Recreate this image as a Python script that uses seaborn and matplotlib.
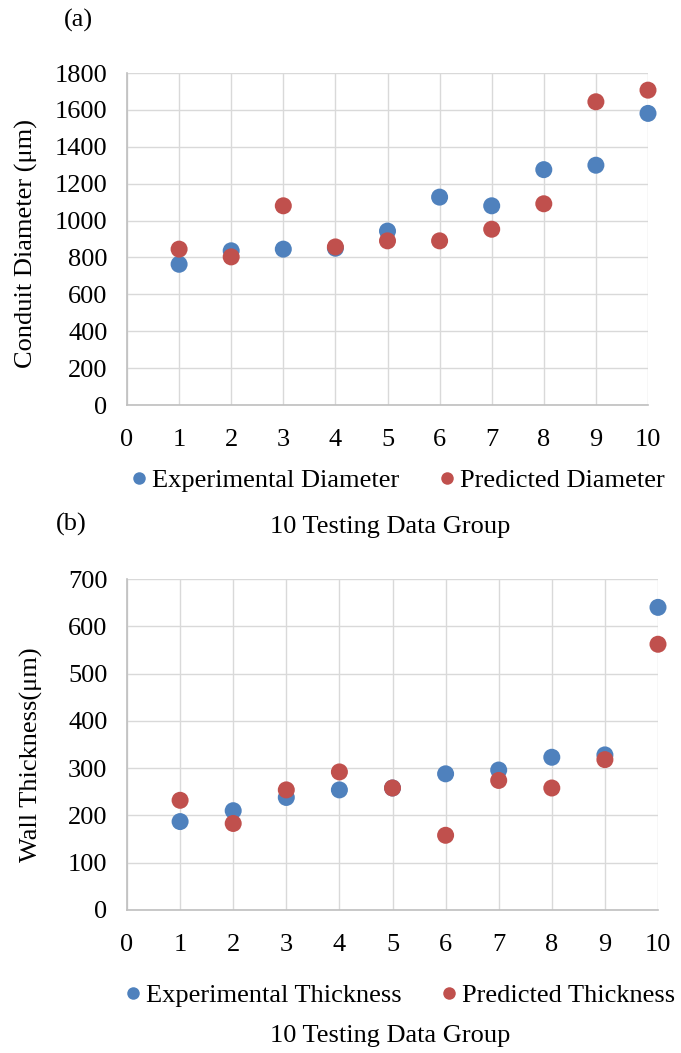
import matplotlib
matplotlib.use("Agg")
import matplotlib.pyplot as plt
import seaborn as sns
import pandas as pd
from matplotlib.lines import Line2D

# Testing data groups
groups = list(range(1, 11))

# Panel (a): conduit diameter (µm)
exp_diameter = [763, 836, 845, 850, 943, 1127, 1080, 1276, 1300, 1581]
pred_diameter = [845, 803, 1080, 857, 890, 890, 953, 1091, 1644, 1707]

# Panel (b): wall thickness (µm)
exp_thickness = [187, 210, 238, 254, 258, 288, 296, 323, 328, 640]
pred_thickness = [232, 183, 254, 292, 258, 158, 274, 258, 318, 562]

x_ticks = list(range(0, 11))
diam_ticks = list(range(0, 1801, 200))
thick_ticks = list(range(0, 701, 100))

BLUE = "#4F81BD"
RED = "#C0504D"

sns.set_theme(style="white")
plt.rcParams["font.family"] = ["Liberation Serif", "DejaVu Serif"]
plt.rcParams["text.color"] = "black"
plt.rcParams["axes.labelcolor"] = "black"

FS = 19
W, H = 681, 1053
fig = plt.figure(figsize=(W / 100, H / 100), dpi=100)


def make_axes(left, top, right, bottom):
    return fig.add_axes([left / W, 1 - bottom / H, (right - left) / W, (bottom - top) / H])


def panel(ax, exp, pred, exp_name, pred_name, yticks):
    df = pd.DataFrame({
        "group": groups * 2,
        "value": exp + pred,
        "series": [exp_name] * len(groups) + [pred_name] * len(groups),
    })
    sns.scatterplot(data=df, x="group", y="value", hue="series",
                    palette={exp_name: BLUE, pred_name: RED},
                    s=150, edgecolor="none", legend=False, ax=ax, zorder=3,
                    clip_on=False)
    ax.set_xlim(0, 10)
    ax.set_ylim(yticks[0], yticks[-1])
    ax.set_xticks(x_ticks)
    ax.set_yticks(yticks)
    ax.grid(True, color="#d9d9d9", linewidth=1.0)
    ax.set_axisbelow(True)
    for side in ("top", "right"):
        ax.spines[side].set_visible(False)
    for side in ("left", "bottom"):
        ax.spines[side].set_color("#bfbfbf")
        ax.spines[side].set_linewidth(1.2)
    ax.tick_params(axis="both", length=0, labelsize=FS, colors="black")
    ax.tick_params(axis="x", pad=17)
    ax.tick_params(axis="y", pad=14)
    ax.set_xlabel("")


ax1 = make_axes(127, 73, 648, 405)
panel(ax1, exp_diameter, pred_diameter, "Experimental Diameter", "Predicted Diameter", diam_ticks)
ax1.set_ylabel("Conduit Diameter (\u03bcm)", fontsize=FS)
ax1.yaxis.set_label_coords(-0.171, 0.485)

ax2 = make_axes(127, 579, 658, 910)
panel(ax2, exp_thickness, pred_thickness, "Experimental Thickness", "Predicted Thickness", thick_ticks)
ax2.set_ylabel("Wall Thickness(\u03bcm)", fontsize=FS)
ax2.yaxis.set_label_coords(-0.158, 0.468)


def legend_at(y, names, x0):
    handles = [Line2D([], [], linestyle="none", marker="o", markersize=9,
                      markerfacecolor=c, markeredgecolor="none") for c in (BLUE, RED)]
    fig.legend(handles, names, loc="center", bbox_to_anchor=(x0 / W, 1 - y / H),
               ncol=2, frameon=False, fontsize=FS, handletextpad=0.05,
               columnspacing=1.35, handlelength=0.9, labelcolor="black")


legend_at(480, ["Experimental Diameter", "Predicted Diameter"], 396)
legend_at(995, ["Experimental Thickness", "Predicted Thickness"], 398)

fig.text(390 / W, 1 - 527 / H, "10 Testing Data Group", ha="center", va="center", fontsize=FS)
fig.text(390 / W, 1 - 1036 / H, "10 Testing Data Group", ha="center", va="center", fontsize=FS)
fig.text(78 / W, 1 - 20 / H, "(a)", ha="center", va="center", fontsize=FS)
fig.text(71 / W, 1 - 524 / H, "(b)", ha="center", va="center", fontsize=FS)

fig.savefig("out.png", dpi=100, facecolor="white")
